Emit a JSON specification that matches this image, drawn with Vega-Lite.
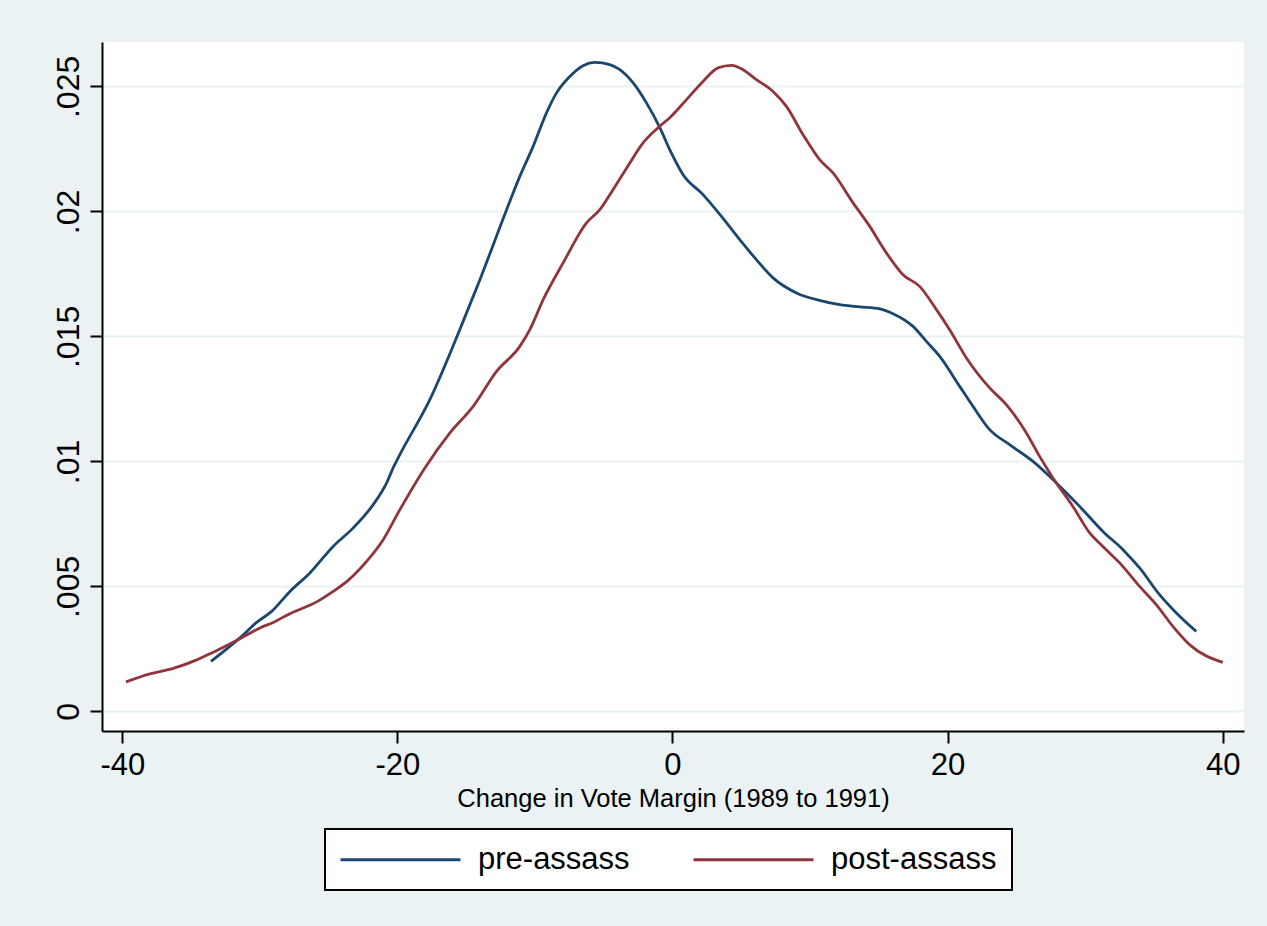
{
  "$schema": "https://vega.github.io/schema/vega-lite/v6.json",
  "autosize": {"type": "none"},
  "padding": {"left": 102, "top": 42, "right": 23, "bottom": 195},
  "width": 1142,
  "height": 689,
  "background": "#EAF2F3",
  "config": {
    "view": {"fill": "white", "stroke": null},
    "font": "Liberation Sans"
  },
  "data": {
    "values": [
      {"x": -33.55, "d": 0.00200, "g": "pre-assass"},
      {"x": -31.45, "d": 0.00294, "g": "pre-assass"},
      {"x": -30.23, "d": 0.00356, "g": "pre-assass"},
      {"x": -29.14, "d": 0.00400, "g": "pre-assass"},
      {"x": -27.81, "d": 0.00480, "g": "pre-assass"},
      {"x": -26.36, "d": 0.00554, "g": "pre-assass"},
      {"x": -24.67, "d": 0.00660, "g": "pre-assass"},
      {"x": -23.21, "d": 0.00734, "g": "pre-assass"},
      {"x": -21.76, "d": 0.00827, "g": "pre-assass"},
      {"x": -20.78, "d": 0.00914, "g": "pre-assass"},
      {"x": -20.31, "d": 0.00974, "g": "pre-assass"},
      {"x": -19.82, "d": 0.01027, "g": "pre-assass"},
      {"x": -17.64, "d": 0.01247, "g": "pre-assass"},
      {"x": -14.97, "d": 0.01594, "g": "pre-assass"},
      {"x": -14.00, "d": 0.01727, "g": "pre-assass"},
      {"x": -12.06, "d": 0.02007, "g": "pre-assass"},
      {"x": -11.10, "d": 0.02140, "g": "pre-assass"},
      {"x": -10.13, "d": 0.02260, "g": "pre-assass"},
      {"x": -9.16, "d": 0.02394, "g": "pre-assass"},
      {"x": -8.43, "d": 0.02474, "g": "pre-assass"},
      {"x": -7.46, "d": 0.02540, "g": "pre-assass"},
      {"x": -6.50, "d": 0.02583, "g": "pre-assass"},
      {"x": -5.65, "d": 0.02596, "g": "pre-assass"},
      {"x": -4.56, "d": 0.02587, "g": "pre-assass"},
      {"x": -3.83, "d": 0.02567, "g": "pre-assass"},
      {"x": -2.86, "d": 0.02514, "g": "pre-assass"},
      {"x": -1.89, "d": 0.02434, "g": "pre-assass"},
      {"x": -0.92, "d": 0.02335, "g": "pre-assass"},
      {"x": -0.20, "d": 0.02247, "g": "pre-assass"},
      {"x": 0.77, "d": 0.02147, "g": "pre-assass"},
      {"x": 2.22, "d": 0.02067, "g": "pre-assass"},
      {"x": 3.56, "d": 0.01980, "g": "pre-assass"},
      {"x": 4.89, "d": 0.01887, "g": "pre-assass"},
      {"x": 6.10, "d": 0.01807, "g": "pre-assass"},
      {"x": 7.31, "d": 0.01734, "g": "pre-assass"},
      {"x": 9.01, "d": 0.01674, "g": "pre-assass"},
      {"x": 10.47, "d": 0.01647, "g": "pre-assass"},
      {"x": 12.16, "d": 0.01627, "g": "pre-assass"},
      {"x": 13.61, "d": 0.01618, "g": "pre-assass"},
      {"x": 15.07, "d": 0.01610, "g": "pre-assass"},
      {"x": 16.03, "d": 0.01591, "g": "pre-assass"},
      {"x": 17.49, "d": 0.01540, "g": "pre-assass"},
      {"x": 18.46, "d": 0.01480, "g": "pre-assass"},
      {"x": 19.43, "d": 0.01420, "g": "pre-assass"},
      {"x": 20.88, "d": 0.01300, "g": "pre-assass"},
      {"x": 21.85, "d": 0.01220, "g": "pre-assass"},
      {"x": 23.06, "d": 0.01127, "g": "pre-assass"},
      {"x": 24.51, "d": 0.01067, "g": "pre-assass"},
      {"x": 26.21, "d": 0.01000, "g": "pre-assass"},
      {"x": 27.91, "d": 0.00914, "g": "pre-assass"},
      {"x": 29.60, "d": 0.00820, "g": "pre-assass"},
      {"x": 31.29, "d": 0.00720, "g": "pre-assass"},
      {"x": 32.75, "d": 0.00647, "g": "pre-assass"},
      {"x": 33.96, "d": 0.00574, "g": "pre-assass"},
      {"x": 35.41, "d": 0.00467, "g": "pre-assass"},
      {"x": 36.63, "d": 0.00394, "g": "pre-assass"},
      {"x": 38.08, "d": 0.00320, "g": "pre-assass"},
      {"x": -39.73, "d": 0.00118, "g": "post-assass"},
      {"x": -37.99, "d": 0.00150, "g": "post-assass"},
      {"x": -36.29, "d": 0.00172, "g": "post-assass"},
      {"x": -34.72, "d": 0.00203, "g": "post-assass"},
      {"x": -33.50, "d": 0.00234, "g": "post-assass"},
      {"x": -31.45, "d": 0.00291, "g": "post-assass"},
      {"x": -29.99, "d": 0.00334, "g": "post-assass"},
      {"x": -29.03, "d": 0.00356, "g": "post-assass"},
      {"x": -27.81, "d": 0.00391, "g": "post-assass"},
      {"x": -25.87, "d": 0.00438, "g": "post-assass"},
      {"x": -24.67, "d": 0.00480, "g": "post-assass"},
      {"x": -23.58, "d": 0.00524, "g": "post-assass"},
      {"x": -22.24, "d": 0.00600, "g": "post-assass"},
      {"x": -21.03, "d": 0.00687, "g": "post-assass"},
      {"x": -19.82, "d": 0.00807, "g": "post-assass"},
      {"x": -18.00, "d": 0.00974, "g": "post-assass"},
      {"x": -16.18, "d": 0.01114, "g": "post-assass"},
      {"x": -14.49, "d": 0.01220, "g": "post-assass"},
      {"x": -12.79, "d": 0.01360, "g": "post-assass"},
      {"x": -11.10, "d": 0.01460, "g": "post-assass"},
      {"x": -10.37, "d": 0.01527, "g": "post-assass"},
      {"x": -9.40, "d": 0.01647, "g": "post-assass"},
      {"x": -7.95, "d": 0.01794, "g": "post-assass"},
      {"x": -6.25, "d": 0.01954, "g": "post-assass"},
      {"x": -5.28, "d": 0.02007, "g": "post-assass"},
      {"x": -4.32, "d": 0.02087, "g": "post-assass"},
      {"x": -3.10, "d": 0.02194, "g": "post-assass"},
      {"x": -2.14, "d": 0.02274, "g": "post-assass"},
      {"x": -0.92, "d": 0.02341, "g": "post-assass"},
      {"x": -0.20, "d": 0.02375, "g": "post-assass"},
      {"x": 1.02, "d": 0.02447, "g": "post-assass"},
      {"x": 2.22, "d": 0.02520, "g": "post-assass"},
      {"x": 3.31, "d": 0.02574, "g": "post-assass"},
      {"x": 4.29, "d": 0.02584, "g": "post-assass"},
      {"x": 5.13, "d": 0.02567, "g": "post-assass"},
      {"x": 6.10, "d": 0.02527, "g": "post-assass"},
      {"x": 7.31, "d": 0.02480, "g": "post-assass"},
      {"x": 8.28, "d": 0.02420, "g": "post-assass"},
      {"x": 9.49, "d": 0.02307, "g": "post-assass"},
      {"x": 10.70, "d": 0.02207, "g": "post-assass"},
      {"x": 11.67, "d": 0.02154, "g": "post-assass"},
      {"x": 13.13, "d": 0.02034, "g": "post-assass"},
      {"x": 14.34, "d": 0.01940, "g": "post-assass"},
      {"x": 15.55, "d": 0.01834, "g": "post-assass"},
      {"x": 16.76, "d": 0.01747, "g": "post-assass"},
      {"x": 17.97, "d": 0.01700, "g": "post-assass"},
      {"x": 19.19, "d": 0.01607, "g": "post-assass"},
      {"x": 20.15, "d": 0.01527, "g": "post-assass"},
      {"x": 21.37, "d": 0.01414, "g": "post-assass"},
      {"x": 23.06, "d": 0.01294, "g": "post-assass"},
      {"x": 24.27, "d": 0.01227, "g": "post-assass"},
      {"x": 25.73, "d": 0.01114, "g": "post-assass"},
      {"x": 26.69, "d": 0.01020, "g": "post-assass"},
      {"x": 27.66, "d": 0.00934, "g": "post-assass"},
      {"x": 29.11, "d": 0.00820, "g": "post-assass"},
      {"x": 30.33, "d": 0.00714, "g": "post-assass"},
      {"x": 31.29, "d": 0.00660, "g": "post-assass"},
      {"x": 32.51, "d": 0.00594, "g": "post-assass"},
      {"x": 33.96, "d": 0.00500, "g": "post-assass"},
      {"x": 35.17, "d": 0.00427, "g": "post-assass"},
      {"x": 36.38, "d": 0.00340, "g": "post-assass"},
      {"x": 37.59, "d": 0.00267, "g": "post-assass"},
      {"x": 40.01, "d": 0.00196, "g": "post-assass"}
    ]
  },
  "mark": {"type": "line", "interpolate": "monotone", "strokeWidth": 2.8},
  "encoding": {
    "x": {
      "field": "x",
      "type": "quantitative",
      "scale": {"domain": [-41.475, 41.55], "nice": false, "zero": false},
      "axis": {
        "values": [-40, -20, 0, 20, 40],
        "labelExpr": "'' + datum.value",
        "grid": false,
        "domainColor": "black",
        "domainWidth": 2,
        "tickColor": "black",
        "tickWidth": 2,
        "tickSize": 12,
        "labelFontSize": 31,
        "labelColor": "black",
        "labelPadding": 7,
        "labelFont": "Liberation Sans",
        "title": "Change in Vote Margin (1989 to 1991)",
        "titleFont": "Liberation Sans",
        "titleFontSize": 25.5,
        "titleFontWeight": "normal",
        "titleColor": "black",
        "titleBaseline": "alphabetic",
        "titleY": 75
      }
    },
    "y": {
      "field": "d",
      "type": "quantitative",
      "scale": {"domain": [-0.000784, 0.026776], "nice": false, "zero": false},
      "axis": {
        "values": [0, 0.005, 0.01, 0.015, 0.02, 0.025],
        "labelExpr": "datum.value == 0 ? '0' : replace(format(datum.value, '.3~f'), '0.', '.')",
        "grid": true,
        "gridColor": "#EAF2F3",
        "gridWidth": 2,
        "domainColor": "black",
        "domainWidth": 2,
        "tickColor": "black",
        "tickWidth": 2,
        "tickSize": 12,
        "labelAngle": -90,
        "labelAlign": "center",
        "labelBaseline": "alphabetic",
        "labelPadding": 12,
        "labelFontSize": 32,
        "labelColor": "black",
        "labelFont": "Liberation Sans",
        "title": null
      }
    },
    "color": {
      "field": "g",
      "type": "nominal",
      "scale": {"domain": ["pre-assass", "post-assass"], "range": ["#1A476F", "#90353B"]},
      "legend": {
        "title": null,
        "orient": "none",
        "direction": "horizontal",
        "legendX": 223,
        "legendY": 787,
        "fillColor": "white",
        "strokeColor": "black",
        "padding": 15,
        "symbolType": "M-1.5,0H10.5",
        "symbolSize": 400,
        "symbolStrokeWidth": 3,
        "labelOffset": 107,
        "labelFontSize": 31,
        "labelFont": "Liberation Sans",
        "labelColor": "black",
        "columnPadding": 57,
        "labelLimit": 400,
        "encode": {"legend": {"update": {"strokeWidth": {"value": 2}}}}
      }
    }
  }
}
